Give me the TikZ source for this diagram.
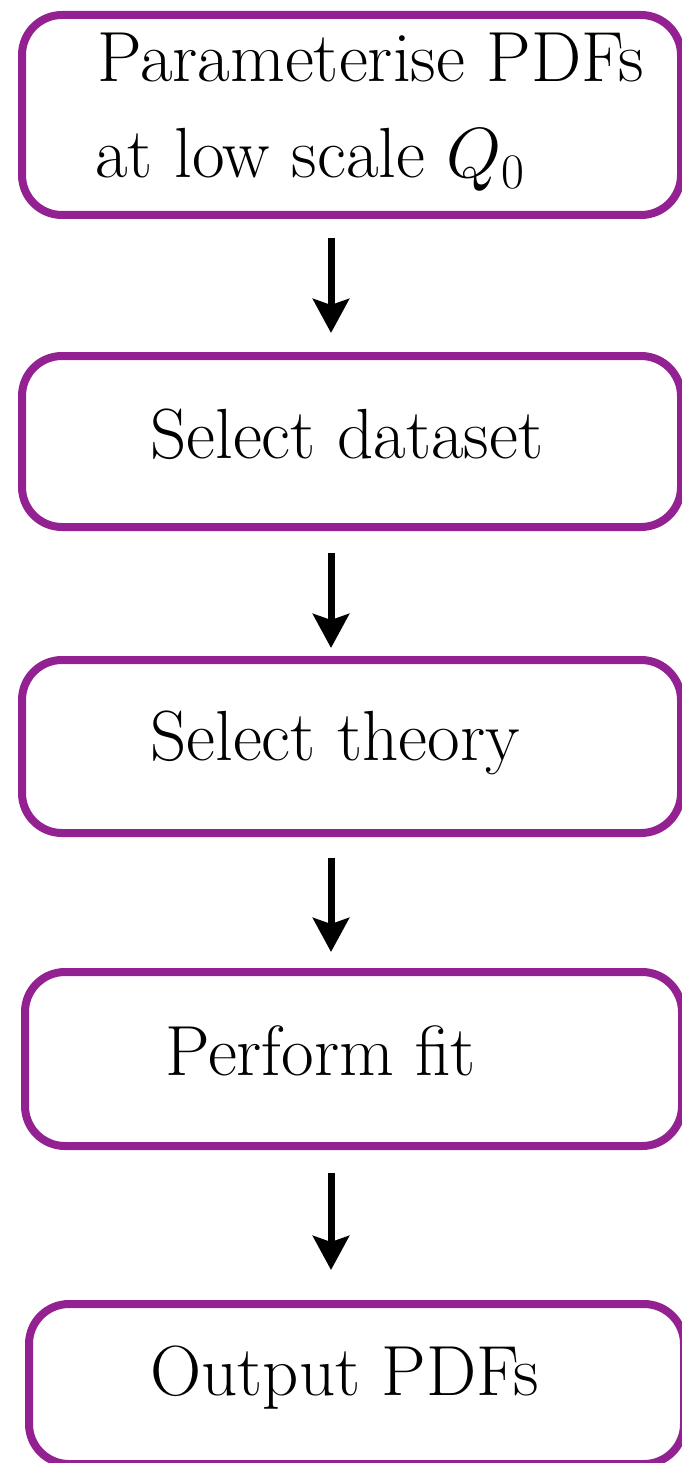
\RequirePackage{fix-cm}
\documentclass[tikz,border=0pt]{standalone}
\usepackage{fontspec}
\setmainfont{Latin Modern Roman}
\usetikzlibrary{arrows.meta,calc}
\definecolor{boxpurple}{RGB}{148,33,145}
\begin{document}
\begin{tikzpicture}[x=1pt,y=-1pt,
  flowbox/.style={draw=boxpurple, line width=8pt, rounded corners=40pt, inner sep=0pt, anchor=north west},
  lbl/.style={anchor=base west, inner sep=0pt, font=\fontsize{71}{98}\selectfont},
  arr/.style={line width=7pt, -{Stealth[length=34pt,width=36pt,inset=6pt]}}]
\useasboundingbox (0,0) rectangle (681,1463);
\node[flowbox, minimum width=659pt, minimum height=200pt] (b1) at (18,11) {};
\node[flowbox, minimum width=659pt, minimum height=171pt] (b2) at (18,352) {};
\node[flowbox, minimum width=659pt, minimum height=173pt] (b3) at (18,656) {};
\node[flowbox, minimum width=657pt, minimum height=174pt] (b4) at (21,968) {};
\node[flowbox, minimum width=655pt, minimum height=160pt] (b5) at (25,1300) {};
\coordinate (ax) at (331,0);
\node[lbl] (t1a) at (97,82) {Parameterise PDFs};
\node[lbl] (t1b) at (95,178) {at low scale $Q_0$};
\node[lbl] (t2) at (150,458) {Select dataset};
\node[lbl] (t3) at (150,760) {Select theory};
\node[lbl] (t4) at (165,1075) {Perform fit};
\node[lbl] (t5) at (150,1395) {Output PDFs};
\draw[arr] ($(b1.south -| ax)+(0,19)$) -- ($(b2.north -| ax)+(0,-19)$);
\draw[arr] ($(b2.south -| ax)+(0,22)$) -- ($(b3.north -| ax)+(0,-8)$);
\draw[arr] ($(b3.south -| ax)+(0,21)$) -- ($(b4.north -| ax)+(0,-16)$);
\draw[arr] ($(b4.south -| ax)+(0,23)$) -- ($(b5.north -| ax)+(0,-30)$);
\end{tikzpicture}
\end{document}
